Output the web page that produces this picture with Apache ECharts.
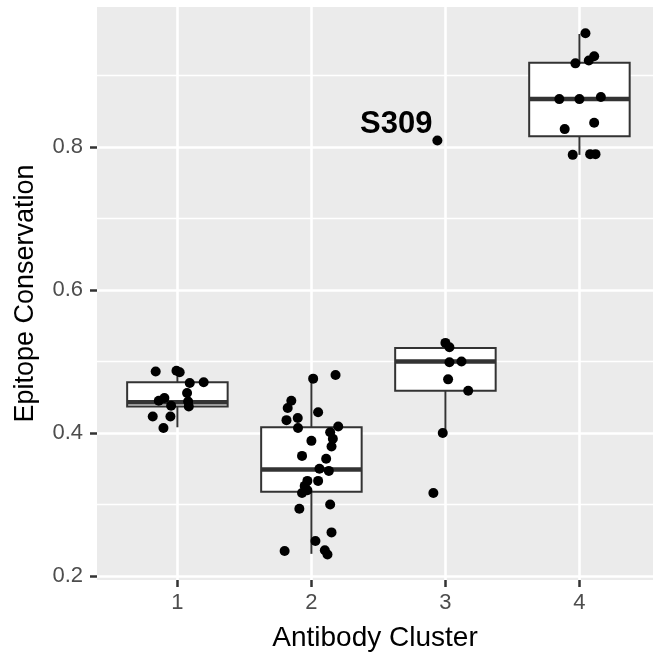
<!DOCTYPE html>
<html>
<head>
<meta charset="utf-8">
<script src="https://cdn.jsdelivr.net/npm/echarts@6/dist/echarts.min.js"></script>
<style>
  html, body { margin: 0; padding: 0; background: #ffffff; }
  #chart { width: 653px; height: 658px; }
</style>
</head>
<body>
<div id="chart"></div>
<script>
// box summaries per cluster
const clusters = [1, 2, 3, 4];
const whiskerLow = [0.408, 0.231, 0.400, 0.789];
const boxQ1 = [0.437, 0.318, 0.459, 0.815];
const boxMedian = [0.443, 0.349, 0.500, 0.867];
const boxQ3 = [0.471, 0.408, 0.519, 0.918];
const whiskerHigh = [0.486, 0.481, 0.526, 0.958];

// jittered points: [jittered x, conservation]
const pointsC1 = [
  [0.838, 0.486], [0.993, 0.487], [1.017, 0.485], [1.092, 0.470], [1.196, 0.471],
  [1.072, 0.456], [0.903, 0.449], [0.861, 0.445], [0.953, 0.438], [1.080, 0.444],
  [1.085, 0.437], [0.816, 0.423], [0.948, 0.423], [0.896, 0.407]
];
const pointsC2 = [
  [2.013, 0.476], [2.180, 0.481], [1.850, 0.445], [1.823, 0.435], [2.050, 0.429],
  [1.814, 0.418], [1.898, 0.421], [1.900, 0.407], [2.200, 0.409], [2.140, 0.401],
  [2.000, 0.389], [2.160, 0.392], [2.150, 0.381], [1.930, 0.368], [2.110, 0.364],
  [2.060, 0.350], [2.130, 0.347], [1.970, 0.333], [2.050, 0.333], [1.950, 0.326],
  [1.930, 0.316], [1.970, 0.320], [1.910, 0.294], [2.140, 0.300], [2.150, 0.261],
  [2.030, 0.249], [1.800, 0.235], [2.100, 0.236], [2.120, 0.230]
];
const pointsC3 = [
  [3.000, 0.526], [3.030, 0.520], [3.030, 0.499], [3.120, 0.500], [3.020, 0.475],
  [3.170, 0.459], [2.980, 0.400], [2.910, 0.316]
];
const pointsC4 = [
  [4.045, 0.959], [4.110, 0.927], [4.070, 0.921], [3.970, 0.917], [3.850, 0.867],
  [4.000, 0.867], [4.160, 0.870], [4.110, 0.834], [3.890, 0.825], [3.950, 0.789],
  [4.080, 0.790], [4.120, 0.790]
];
const s309Point = [2.94, 0.809];
const s309Text = 'S309';

const yTicks = [0.2, 0.4, 0.6, 0.8];
const yMinor = [0.3, 0.5, 0.7, 0.9];

const boxData = clusters.map((c, i) => [c, whiskerLow[i], boxQ1[i], boxMedian[i], boxQ3[i], whiskerHigh[i]]);

const FONT = 'Liberation Sans, Arial, Helvetica, sans-serif';

let chart = echarts.init(document.getElementById('chart'));

const gridLine = (w) => ({ color: '#ffffff', width: w, type: 'solid', opacity: 1 });

function renderBox(params, api) {
  const x = api.value(0);
  const halfW = api.size([0.75, 0])[0] / 2;
  const cx = api.coord([x, api.value(3)])[0];
  const yLo = api.coord([x, api.value(1)])[1];
  const yQ1 = api.coord([x, api.value(2)])[1];
  const yMed = api.coord([x, api.value(3)])[1];
  const yQ3 = api.coord([x, api.value(4)])[1];
  const yHi = api.coord([x, api.value(5)])[1];
  const stroke = { stroke: '#333333', lineWidth: 2 };
  return {
    type: 'group',
    children: [
      { type: 'line', shape: { x1: cx, y1: yHi, x2: cx, y2: yQ3 }, style: stroke },
      { type: 'line', shape: { x1: cx, y1: yQ1, x2: cx, y2: yLo }, style: stroke },
      { type: 'rect', shape: { x: cx - halfW, y: yQ3, width: halfW * 2, height: yQ1 - yQ3 },
        style: { fill: '#ffffff', stroke: '#333333', lineWidth: 2 } },
      { type: 'line', shape: { x1: cx - halfW, y1: yMed, x2: cx + halfW, y2: yMed },
        style: { stroke: '#333333', lineWidth: 4.5 } }
    ]
  };
}

const pointSeries = (data) => ({
  type: 'scatter',
  data: data,
  symbol: 'circle',
  symbolSize: 10,
  itemStyle: { color: '#000000', opacity: 1 },
  z: 4,
  silent: true
});

let option = {
  animation: false,
  backgroundColor: '#ffffff',
  grid: {
    left: 97, right: 0, top: 7, bottom: 78,
    show: true, backgroundColor: '#EBEBEB', borderWidth: 0,
    outerBoundsMode: 'none'
  },
  xAxis: {
    type: 'value',
    min: 0.4,
    max: 4.549,
    name: 'Antibody Cluster',
    nameLocation: 'middle',
    nameGap: 44,
    nameTextStyle: { fontFamily: FONT, fontSize: 28, color: '#000000' },
    axisLine: { show: false },
    splitLine: { show: false },
    axisTick: { show: true, customValues: clusters, length: 7, lineStyle: { color: '#333333', width: 2.5 } },
    axisLabel: { customValues: clusters, fontFamily: FONT, fontSize: 22, color: '#4D4D4D', margin: 12,
      formatter: (v) => String(v) }
  },
  yAxis: {
    type: 'value',
    min: 0.1944,
    max: 0.9958,
    name: 'Epitope Conservation',
    nameLocation: 'middle',
    nameGap: 58,
    nameTextStyle: { fontFamily: FONT, fontSize: 27, color: '#000000' },
    axisLine: { show: false },
    splitLine: { show: false },
    axisTick: { show: true, customValues: yTicks, length: 7, lineStyle: { color: '#333333', width: 2.5 } },
    axisLabel: { customValues: yTicks, fontFamily: FONT, fontSize: 22, color: '#4D4D4D', margin: 14,
      formatter: (v) => v.toFixed(1) }
  },
  series: [
    {
      // panel grid lines
      type: 'scatter',
      data: [],
      z: 1,
      silent: true,
      markLine: {
        z: 1,
        silent: true,
        symbol: ['none', 'none'],
        label: { show: false },
        emphasis: { disabled: true },
        animation: false,
        data: [
          ...yMinor.map((v) => ({ yAxis: v, lineStyle: gridLine(1.3) })),
          ...yTicks.map((v) => ({ yAxis: v, lineStyle: gridLine(2.6) })),
          ...clusters.map((v) => ({ xAxis: v, lineStyle: gridLine(2.6) }))
        ]
      }
    },
    {
      type: 'custom',
      renderItem: renderBox,
      data: boxData,
      encode: { x: 0, y: [1, 2, 3, 4, 5] },
      z: 2,
      silent: true
    },
    pointSeries(pointsC1),
    pointSeries(pointsC2),
    pointSeries(pointsC3),
    pointSeries(pointsC4),
    {
      type: 'scatter',
      symbol: 'circle',
      symbolSize: 10,
      itemStyle: { color: '#000000', opacity: 1 },
      z: 4,
      silent: true,
      data: [{
        value: s309Point,
        label: {
          show: true,
          formatter: s309Text,
          position: 'left',
          distance: 0,
          offset: [0, -16],
          fontFamily: FONT,
          fontWeight: 'bold',
          fontSize: 31,
          color: '#000000'
        }
      }]
    }
  ]
};

chart.setOption(option);
</script>
</body>
</html>
